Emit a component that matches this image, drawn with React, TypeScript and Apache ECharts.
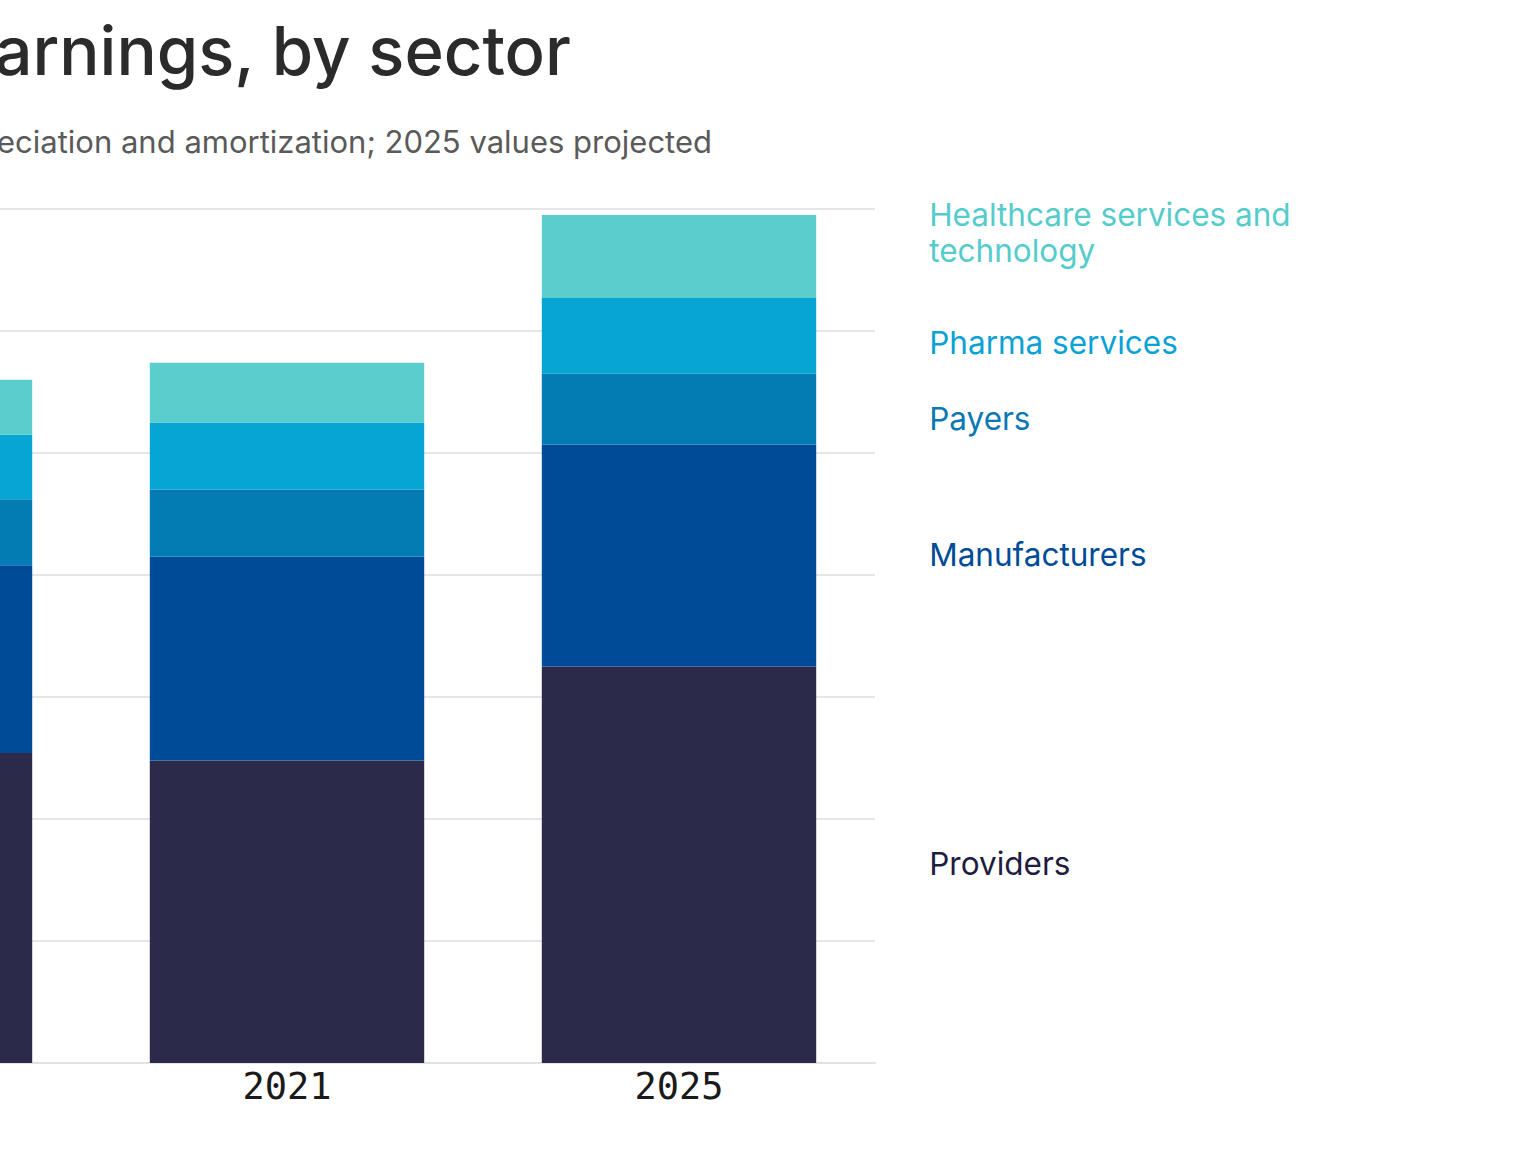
import * as echarts from 'echarts';
import React, { useEffect, useRef } from 'react';

// EBITDA by sector, in billions of dollars
const years = ['2019', '2021', '2025'];
const providers = [254, 248, 325];
const manufacturers = [154, 167, 182];
const payers = [54, 55, 58];
const pharmaServices = [53, 55, 62];
const servicesTech = [45, 49, 68];

const sectors = [
  { name: 'Providers', values: providers, color: '#2c2a4a', text: '#1e1c40', dy: -1 },
  { name: 'Manufacturers', values: manufacturers, color: '#004b98', text: '#004b98', dy: -1 },
  { name: 'Payers', values: payers, color: '#037cb3', text: '#0a78b2', dy: 9 },
  { name: 'Pharma services', values: pharmaServices, color: '#07a5d4', text: '#0aa2d6', dy: 7 },
  {
    name: 'Healthcare services and\ntechnology',
    values: servicesTech,
    color: '#5ccdcd',
    text: '#55cccc',
    dy: -24,
  },
];

// the view is cropped: the chart canvas starts left of the window
const SHIFT = 400;

const App: React.FC = () => {
  const chartRef = useRef<HTMLDivElement>(null);

  useEffect(() => {
    let chart: echarts.ECharts | undefined;
    if (chartRef.current) {
      chart = echarts.init(chartRef.current, undefined, { renderer: 'svg' });
      const last = years.length - 1;

      const option: echarts.EChartsOption = {
        animation: false,
        backgroundColor: '#ffffff',
        textStyle: { fontFamily: 'Inter' },
        graphic: [
          {
            type: 'text',
            x: 571 + SHIFT,
            y: 50,
            style: {
              text: 'Health care earnings, by sector',
              align: 'right',
              verticalAlign: 'middle',
              fill: '#2b2b2b',
              font: '500 67px Inter',
            },
          },
          {
            type: 'text',
            x: 712 + SHIFT,
            y: 141,
            style: {
              text: 'Earnings before interest, taxes, depreciation and amortization; 2025 values projected',
              align: 'right',
              verticalAlign: 'middle',
              fill: '#5a5a5a',
              font: '400 31px Inter',
            },
          },
        ],
        grid: {
          left: SHIFT - 301,
          width: 1176,
          top: 209,
          bottom: 89,
        },
        xAxis: {
          type: 'category',
          data: years,
          axisLine: { lineStyle: { color: '#e2e2e2', width: 2 } },
          axisTick: { show: false },
          axisLabel: {
            color: '#1a1a1a',
            fontFamily: 'DejaVu Sans Mono',
            fontSize: 37,
            margin: 5,
          },
        },
        yAxis: {
          type: 'value',
          min: 0,
          max: 700,
          interval: 100,
          axisLabel: { show: false },
          axisLine: { show: false },
          axisTick: { show: false },
          splitLine: { lineStyle: { color: '#e6e6e6', width: 2 } },
        },
        series: sectors.map((s) => ({
          name: s.name,
          type: 'bar',
          stack: 'total',
          barWidth: '70%',
          itemStyle: { color: s.color },
          data: s.values.map((v, i) =>
            i === last
              ? {
                  value: v,
                  label: {
                    show: true,
                    position: 'right',
                    distance: 113,
                    offset: [0, s.dy],
                    formatter: s.name,
                    color: s.text,
                    fontFamily: 'Inter',
                    fontSize: 31.5,
                    lineHeight: 36,
                    align: 'left',
                  },
                }
              : v,
          ),
        })),
      };

      chart.setOption(option);
    }

    return () => {
      chart?.dispose();
    };
  }, []);

  return (
    <div
      style={{
        position: 'fixed',
        left: 0,
        top: 0,
        width: 1536,
        height: 1152,
        overflow: 'hidden',
        background: '#ffffff',
      }}
    >
      <div
        ref={chartRef}
        style={{ position: 'absolute', left: -SHIFT, top: 0, width: 1536 + SHIFT, height: 1152 }}
      />
    </div>
  );
};

export default App;
